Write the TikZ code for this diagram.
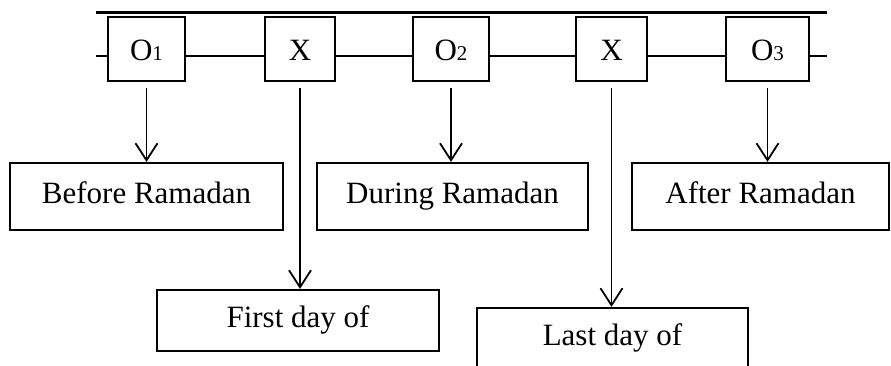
\documentclass[tikz,border=0pt]{standalone}
\usepackage{fontspec}
\setmainfont{Liberation Serif}
\usetikzlibrary{arrows.meta}

\begin{document}
\begin{tikzpicture}[x=0.5pt, y=-0.5pt,
        stage/.style={rectangle, draw, line width=1.1pt, minimum height=32pt, inner sep=0pt, text height=11pt, text depth=0pt, font=\fontsize{15.5}{18}\selectfont},
        period/.style={rectangle, draw, line width=1.1pt, inner sep=0pt, text height=10.5pt, text depth=4pt, font=\fontsize{15.5}{18}\selectfont},
        arr/.style={line width=0.9pt, -{Straight Barb[length=8.5pt, width=11pt, line width=0.9pt]}, shorten <=3pt}]

        \clip (0,0) rectangle (891,365);

        % top row
        \coordinate (TL) at (96,12.5);
        \coordinate (TR) at (827,12.5);
        \coordinate (LS) at (96,56);
        \coordinate (RS) at (827,56);

        \node[stage, minimum width=38.5pt] (O1) at (146.5,49) {O{\fontsize{10.5}{12}\selectfont 1}};
        \node[stage, minimum width=35pt] (X1) at (300,49) {X};
        \node[stage, minimum width=38pt] (O2) at (451,49) {O{\fontsize{10.5}{12}\selectfont 2}};
        \node[stage, minimum width=35.5pt] (X2) at (611.5,49) {X};
        \node[stage, minimum width=41.5pt] (O3) at (767.5,49) {O{\fontsize{10.5}{12}\selectfont 3}};

        \draw[line width=1.1pt] (TL) -- (TR);
        \draw[line width=1.1pt] (LS) -- ([yshift=-3.5pt]O1.west);
        \foreach \a/\b in {O1/X1, X1/O2, O2/X2, X2/O3}
            \draw[line width=1.1pt] ([yshift=-3.5pt]\a.east) -- ([yshift=-3.5pt]\b.west);
        \draw[line width=1.1pt] ([yshift=-3.5pt]O3.east) -- (RS);

        % periods
        \node[period, minimum width=136.5pt, minimum height=33.5pt] (Before) at (146.5,196.5) {Before Ramadan};
        \node[period, minimum width=135.5pt, minimum height=33.5pt] (During) at (452.5,196.5) {During Ramadan};
        \node[period, minimum width=128.5pt, minimum height=33.5pt] (After) at (760.5,196.5) {After Ramadan};
        \node[period, minimum width=141pt, minimum height=30.5pt] (First) at (298,320.5) {First day of};
        \node[period, minimum width=135.5pt, minimum height=30.5pt] (Last) at (612.5,338.5) {Last day of};

        \draw[arr] (O1.south) -- (O1.south |- Before.north);
        \draw[arr] (X1.south) -- (X1.south |- First.north);
        \draw[arr] (O2.south) -- (O2.south |- During.north);
        \draw[arr] (X2.south) -- (X2.south |- Last.north);
        \draw[arr] (O3.south) -- (O3.south |- After.north);
    \end{tikzpicture}
\end{document}
